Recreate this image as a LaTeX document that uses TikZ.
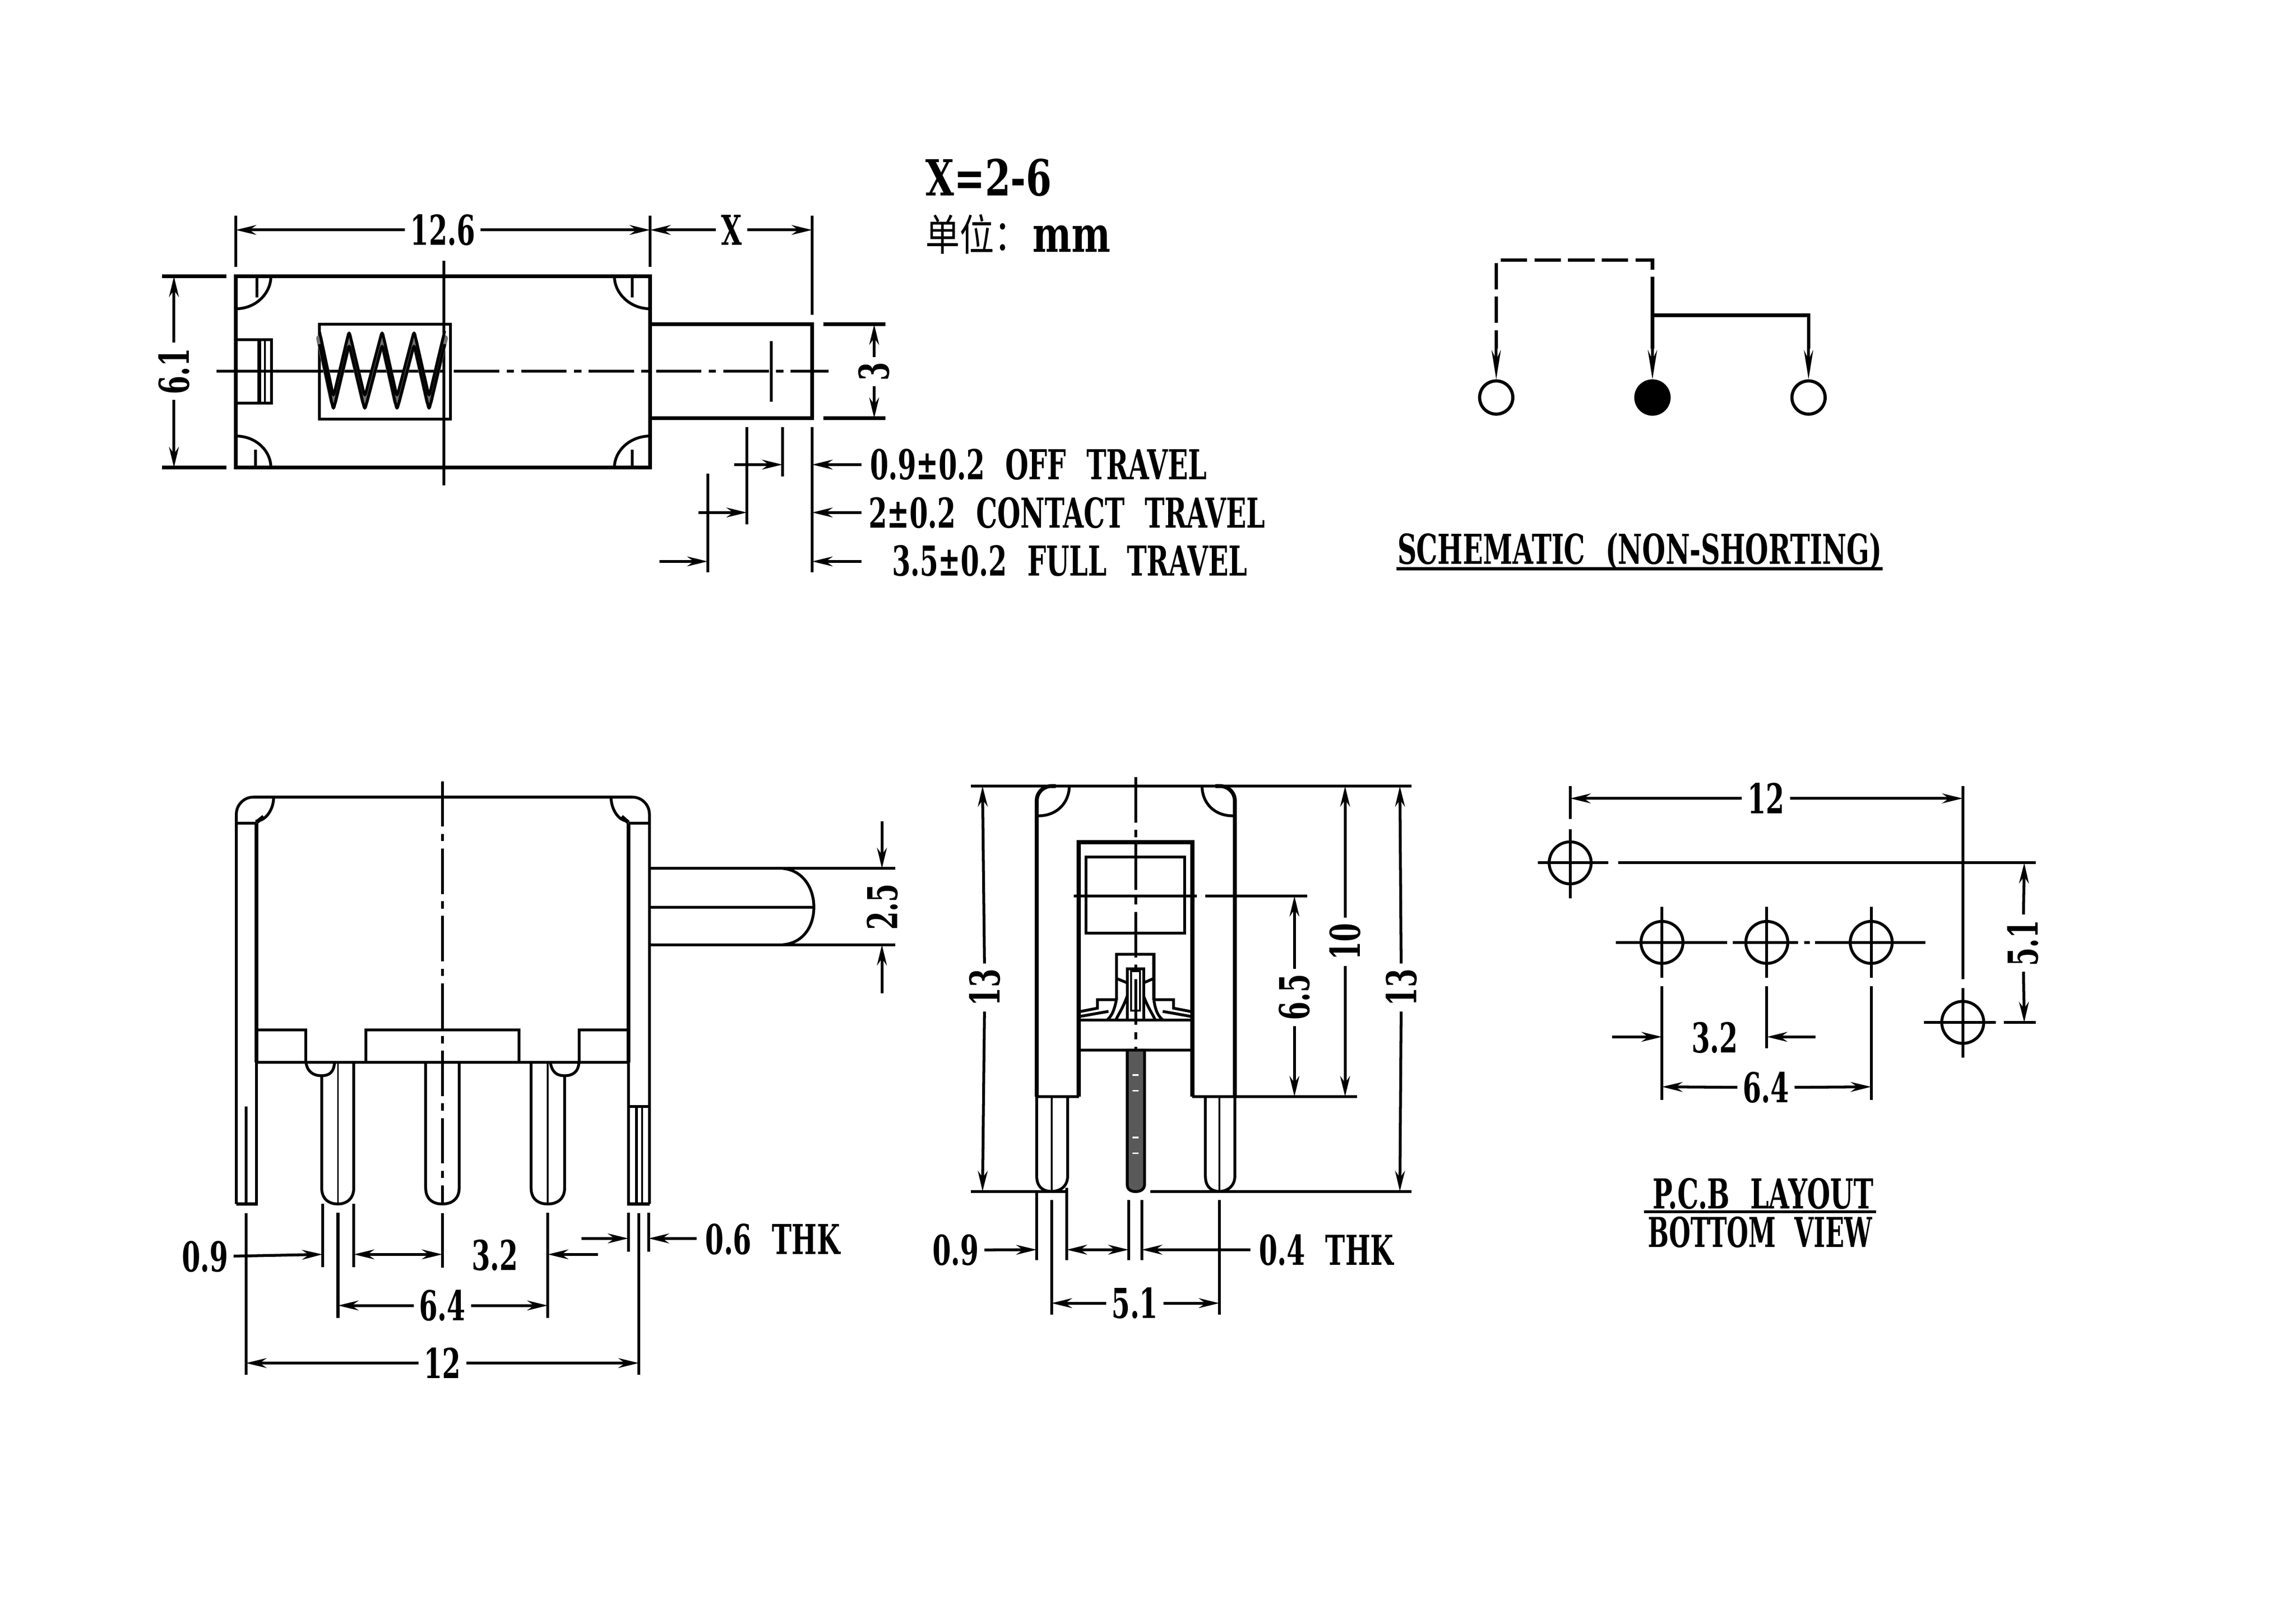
\documentclass[tikz,border=0pt]{standalone}
\usepackage{fontspec}
\usepackage{graphicx}
\usepackage{tikz}
\usetikzlibrary{arrows.meta}
\usetikzlibrary{calc}
\newfontfamily\dimfamily{DejaVu Serif}[FakeStretch=0.646, WordSpace=2.2]
\newfontfamily\bigfamily{DejaVu Serif}[FakeStretch=0.74]
\newfontfamily\cjkfamily{Noto Sans CJK SC}[FakeStretch=0.8]
\newcommand{\dimfont}{\dimfamily\bfseries\fontsize{24}{26}\selectfont}
\begin{document}
\begin{tikzpicture}[x=0.3mm, y=-0.3mm,
				outline/.style={draw, line width=0.8mm, line join=miter},
				thinline/.style={draw, line width=0.58mm},
				fineline/.style={draw, line width=0.38mm},
				centerline/.style={draw, line width=0.58mm, dash pattern=on 9.3mm off 1.5mm on 1.5mm off 1.5mm},
				dimarrow/.style={draw, line width=0.58mm, -{Stealth[length=4.2mm, width=2mm]}},
				lab/.style={font=\dimfont, inner sep=3pt},
				bigtext/.style={font=\bigfamily\bfseries\fontsize{29}{31}\selectfont, anchor=base west, inner sep=0pt},
				hole/.style={draw, line width=0.6mm, circle, minimum size=8.6mm, inner sep=0pt},
				term/.style={draw, line width=0.65mm, circle, minimum size=6.8mm, inner sep=0pt}]
	\useasboundingbox (0,0) rectangle (1568,1101);

	% top view
	\draw[outline] (161,188.7) rectangle (444,319.2);
	\draw[outline] (444,221.4) -- (554.6,221.4) -- (554.6,285.5) -- (444,285.5);
	\draw[thinline] (161,231.9) -- (185.5,231.9) -- (185.5,275.3) -- (161,275.3);
	\draw[outline] (177,231.9) -- (177,275.3);
	\draw[fineline] (181,231.9) -- (181,275.3);
	\draw[thinline] (218.1,221.4) rectangle (307.7,286);
	\draw[thinline] (148,253.3) -- (303,253.3);
	\draw[centerline] (310,253.3) -- (566,253.3);
	\draw[thinline] (303.2,178) -- (303.2,331.5);
	\draw[thinline] (526.8,232.9) -- (526.8,274.2);
	% spring
	\draw[draw=black!55, line width=1.3mm, line cap=round, rounded corners=0.7mm] (218.1,231) -- (227.7,276) -- (238.4,231) -- (249.1,276) -- (261,231) -- (271.1,276) -- (282.8,231) -- (293,276) -- (303.7,231);
	\draw[thinline, rounded corners=0.8mm] (218.1,226) -- (227.7,271) -- (238.4,226) -- (249.1,271) -- (261,226) -- (271.1,271) -- (282.8,226) -- (293,271) -- (303.7,226);
	\draw[thinline, rounded corners=0.8mm] (218.1,235) -- (227.7,280) -- (238.4,235) -- (249.1,280) -- (261,235) -- (271.1,280) -- (282.8,235) -- (293,280) -- (303.7,235);
	% corner pieces of the top view
	\draw[thinline] (185,188.7) .. controls (185,200) and (175,210.8) .. (161,210.8);
	\draw[thinline] (175.5,188.7) -- (175.5,203);
	\draw[thinline] (419.6,188.7) .. controls (419.6,200) and (430,210.8) .. (444,210.8);
	\draw[thinline] (431.8,188.7) -- (431.8,203);
	\draw[thinline] (185,319.2) .. controls (185,308) and (175,297.7) .. (161,297.7);
	\draw[thinline] (174.5,319.2) -- (174.5,307);
	\draw[thinline] (419.6,319.2) .. controls (419.6,308) and (430,297.7) .. (444,297.7);
	\draw[thinline] (431.8,319.2) -- (431.8,307);

	% top view dimensions
	\draw[thinline] (161,147.3) -- (161,182.1);
	\draw[thinline] (444,147.3) -- (444,182.1);
	\draw[thinline] (554.6,147.3) -- (554.6,214.9);
	\node[lab] (lab126) at (302.4,157) {12.6};
	\node[lab] (labx) at (499.6,157) {X};
	\draw[dimarrow] (lab126) -- (161,157);
	\draw[dimarrow] (lab126) -- (444,157);
	\draw[dimarrow] (labx) -- (444,157);
	\draw[dimarrow] (labx) -- (554.6,157);
	\draw[outline] (110.8,188.7) -- (154.6,188.7);
	\draw[outline] (110.8,319.2) -- (154.6,319.2);
	\node[lab, rotate=90] (lab61) at (118.8,253.5) {6.1};
	\draw[dimarrow] (lab61) -- (118.8,188.7);
	\draw[dimarrow] (lab61) -- (118.8,319.2);
	\draw[outline] (562.3,221.4) -- (604.7,221.4);
	\draw[outline] (562.3,285.5) -- (604.7,285.5);
	\node[lab, rotate=90] (lab3) at (597,253.7) {3};
	\draw[dimarrow] (lab3) -- (597,221.4);
	\draw[dimarrow] (lab3) -- (597,285.5);

	% travel dimensions
	\draw[thinline] (554.6,291.6) -- (554.6,390.8);
	\draw[thinline] (534.4,291.6) -- (534.4,325.4);
	\draw[thinline] (510.1,291.6) -- (510.1,358.1);
	\draw[thinline] (483.3,323.3) -- (483.3,390.8);
	\node[lab, anchor=base west, inner sep=0pt] (labofft) at (594,327.2) {0.9±0.2 OFF TRAVEL};
	\node[lab, anchor=base west, inner sep=0pt] (labcont) at (593,360.4) {2±0.2 CONTACT TRAVEL};
	\node[lab, anchor=base west, inner sep=0pt] (labfull) at (609,393) {3.5±0.2 FULL TRAVEL};
	\draw[dimarrow] (501.4,317.2) -- (534.4,317.2);
	\draw[dimarrow] (588.3,317.2) -- (554.6,317.2);
	\draw[dimarrow] (477,349.9) -- (510.1,349.9);
	\draw[dimarrow] (588.3,349.9) -- (554.6,349.9);
	\draw[dimarrow] (450.3,383.3) -- (483.3,383.3);
	\draw[dimarrow] (588.3,383.3) -- (554.6,383.3);

	\node[bigtext] (labrange) at (632,133.6) {X=2-6};
	\node[font=\cjkfamily\fontsize{25}{27}\selectfont, anchor=west, inner sep=0pt] (labunit) at (632,160) {单位：};
	\node[bigtext] (labmm) at (705,172) {mm};

	% schematic
	\node[term] (term1) at (1021.8,271.4) {};
	\node[term, fill=black] (term2) at (1128.5,271.4) {};
	\node[term] (term3) at (1235.1,271.4) {};
	\draw[thinline, line width=0.7mm, dash pattern=on 5.4mm off 1.5mm] (1128.5,207) -- (1128.5,177.6) -- (1021.8,177.6) -- (1021.8,238);
	\draw[thinline, line width=0.7mm] (1128.5,207) -- (1128.5,238);
	\draw[thinline, line width=0.7mm] (1128.5,215.2) -- (1235.1,215.2) -- (1235.1,238);
	\draw[thinline, -{Stealth[length=6mm, width=1.9mm]}] (1021.8,238) -- (term1);
	\draw[thinline, -{Stealth[length=6mm, width=1.9mm]}] (1128.5,238) -- (term2);
	\draw[thinline, -{Stealth[length=6mm, width=1.9mm]}] (1235.1,238) -- (term3);
	\node[lab, inner sep=0pt] (labschem) at (1119.8,376.5) {SCHEMATIC (NON-SHORTING)};
	\draw[thinline] (953.8,388.3) -- (1285.7,388.3);

	% front view
	\draw[thinline, rounded corners=3.5mm] (161.4,822) -- (161.4,544.2) -- (443.5,544.2) -- (443.5,822);
	\draw[thinline] (161.4,822) -- (175.1,822) -- (175.1,725.2);
	\draw[outline] (175.1,725.2) -- (175.1,562);
	\draw[thinline] (161.4,562) -- (175.1,562);
	\draw[thinline] (443.5,822) -- (429.1,822) -- (429.1,725.2);
	\draw[outline] (429.1,725.2) -- (429.1,562);
	\draw[thinline] (429.1,562) -- (443.5,562);
	\draw[thinline] (168,755.3) -- (168,822);
	\draw[thinline] (429.1,755.3) -- (443.5,755.3);
	\draw[thinline] (434.7,755.3) -- (434.7,822);
	\draw[fineline] (438.5,755.3) -- (438.5,822);
	\draw[thinline] (186.9,544.2) .. controls (186.9,552) and (182,560.6) .. (174.5,560.6);
	\draw[thinline] (417.3,544.2) .. controls (417.3,552) and (422,560.6) .. (429.1,560.6);
	\draw[outline] (175.1,561.5) -- (180,557.5);
	\draw[outline] (429.1,561.5) -- (424.5,557.5);
	\draw[thinline] (175.1,703.2) -- (208.9,703.2) -- (208.9,725.2);
	\draw[thinline] (249.8,725.2) -- (249.8,703.2) -- (354.5,703.2) -- (354.5,725.2);
	\draw[thinline] (429.1,703.2) -- (395.4,703.2) -- (395.4,725.2);
	\draw[thinline] (175.1,725.2) -- (429.1,725.2);
	\draw[thinline] (208.9,725.2) .. controls (210,732) and (214,734.4) .. (219.7,734.4) .. controls (225,734.4) and (228,732) .. (228.5,725.2);
	\draw[thinline] (375.8,725.2) .. controls (377,732) and (380,734.4) .. (385.6,734.4) .. controls (391,734.4) and (395,732) .. (395.4,725.2);
	% pins
	\draw[thinline] (219.7,734.4) -- (219.7,811) .. controls (219.7,819) and (225,822) .. (230.8,822) .. controls (236,822) and (241.6,819) .. (241.6,811) -- (241.6,725.2);
	\draw[thinline] (290.7,725.2) -- (290.7,811) .. controls (290.7,819) and (296,822) .. (302.1,822) .. controls (308,822) and (313.6,819) .. (313.6,811) -- (313.6,725.2);
	\draw[thinline] (362.7,725.2) -- (362.7,811) .. controls (362.7,819) and (368,822) .. (374.1,822) .. controls (380,822) and (385.6,819) .. (385.6,811) -- (385.6,734.4);
	\draw[fineline] (230.8,725.2) -- (230.8,822);
	\draw[fineline] (374.1,725.2) -- (374.1,822);
	\draw[centerline] (302.1,533.3) -- (302.1,822);
	% plunger side
	\draw[thinline] (443.5,592.9) -- (611.4,592.9);
	\draw[thinline] (443.5,645) -- (611.4,645);
	\draw[thinline] (534.5,592.9) .. controls (548,594) and (555.8,606) .. (555.8,619.3) .. controls (555.8,633) and (548,644) .. (534.5,645);
	\draw[thinline] (443.5,619.3) -- (555.8,619.3);

	% front view dimensions
	\draw[thinline] (168,828.3) -- (168,938.6);
	\draw[thinline] (436.3,828.3) -- (436.3,938.6);
	\draw[thinline] (220.3,822) -- (220.3,865);
	\draw[thinline] (241.6,822) -- (241.6,865);
	\draw[thinline] (230.8,827.8) -- (230.8,899.9);
	\draw[thinline] (374.1,827.8) -- (374.1,899.9);
	\draw[thinline] (302.1,828.3) -- (302.1,865.6);
	\draw[thinline] (429.1,827.8) -- (429.1,854.7);
	\draw[thinline] (442.9,827.8) -- (442.9,854.7);
	\node[lab] (labfa) at (140,858) {0.9};
	\node[lab] (labfb) at (338,857) {3.2};
	\node[lab, anchor=west, inner sep=0pt] (labfc) at (481.5,846) {0.6 THK};
	\node[lab] (labfd) at (302.1,891.3) {6.4};
	\node[lab] (labfe) at (302.1,930.6) {12};
	\node[lab, rotate=90] (labff) at (602.6,619.3) {2.5};
	\draw[dimarrow] (labfa) -- (220.3,856.4);
	\draw[dimarrow] (272,856.4) -- (241.6,856.4);
	\draw[dimarrow] (272,856.4) -- (302.1,856.4);
	\draw[dimarrow] (408.5,856.4) -- (374.1,856.4);
	\draw[dimarrow] (397,845.5) -- (429.1,845.5);
	\draw[dimarrow] (475.6,845.5) -- (442.9,845.5);
	\draw[dimarrow] (labfd) -- (230.8,891.3);
	\draw[dimarrow] (labfd) -- (374.1,891.3);
	\draw[dimarrow] (labfe) -- (168,930.6);
	\draw[dimarrow] (labfe) -- (436.3,930.6);
	\draw[dimarrow] (602.3,560.6) -- (602.3,592.9);
	\draw[dimarrow] (602.3,678) -- (602.3,645);

	% side view
	\draw[thinline] (663.2,536.7) -- (964,536.7);
	\draw[thinline] (663.2,813.4) -- (729,813.4);
	\draw[thinline] (785.6,813.4) -- (964,813.4);
	\draw[outline, rounded corners=3mm] (708,748.7) -- (708,536.7) -- (721,536.7);
	\draw[outline, rounded corners=3mm] (843.3,748.7) -- (843.3,536.7) -- (830,536.7);
	\draw[thinline] (730.3,536.7) .. controls (730,548) and (722,557) .. (709,557);
	\draw[thinline] (820.9,536.7) .. controls (821,548) and (829,557) .. (842,557);
	\draw[outline] (736.7,748.7) -- (736.7,575) -- (814.3,575) -- (814.3,748.7);
	\draw[thinline] (708,748.7) -- (736.7,748.7);
	\draw[thinline] (814.3,748.7) -- (926.8,748.7);
	\draw[thinline] (741.6,585.1) rectangle (809.1,637);
	\draw[thinline] (733.4,611.7) -- (817.4,611.7);
	\draw[thinline] (823.2,611.7) -- (892.7,611.7);
	\draw[centerline] (775.5,530.6) -- (775.5,716.9);
	% contact
	\draw[thinline] (737.2,696.5) -- (813.7,696.5);
	\draw[thinline] (737.2,716.9) -- (813.7,716.9);
	\draw[thinline] (737.2,690.7) -- (749.5,688.3) -- (749.5,682.5) -- (762.4,682.5);
	\draw[thinline] (813.7,690.7) -- (801.4,688.3) -- (801.4,682.5) -- (788,682.5);
	\draw[thinline] (737.2,694) -- (757,690.5);
	\draw[thinline] (813.7,694) -- (794,690.5);
	\draw[thinline] (762.4,682.5) .. controls (761,690) and (759,694) .. (755.9,696.5);
	\draw[thinline] (788,682.5) .. controls (789,690) and (791,694) .. (794.4,696.5);
	\draw[thinline] (762.4,682.5) -- (762.4,651.4) -- (788,651.4) -- (788,682.5);
	\draw[thinline] (769.8,696.5) -- (769.8,661.3) -- (781,661.3) -- (781,696.5);
	\draw[fineline] (772.5,690) rectangle (778.4,663);
	\draw[thinline] (762.4,668) -- (769.8,671);
	\draw[thinline] (788,668) -- (781,671);
	\draw[thinline] (769.8,680) .. controls (767,688) and (764,692) .. (762,696.5);
	\draw[thinline] (781,680) .. controls (784,688) and (787,692) .. (789,696.5);
	% contact pin
	\draw[thinline, fill=black!65] (769.8,716.9) -- (769.8,809) .. controls (770,812) and (772,813.5) .. (775.5,813.5) .. controls (779,813.5) and (781.4,812) .. (781.6,809) -- (781.6,716.9) -- cycle;
	\draw[line width=0.35mm, white] (773.5,734) -- (777.5,734);
	\draw[line width=0.35mm, white] (773.5,744.7) -- (777.5,744.7);
	\draw[line width=0.35mm, white] (773.5,776.7) -- (777.5,776.7);
	\draw[line width=0.35mm, white] (773.5,787.3) -- (777.5,787.3);
	% side pins
	\draw[thinline] (708,748.7) -- (708,803) .. controls (708,810) and (712,813.4) .. (718.1,813.4) .. controls (724,813.4) and (729.1,810) .. (729.1,803) -- (729.1,748.7);
	\draw[thinline] (823.2,748.7) -- (823.2,803) .. controls (823.2,810) and (827,813.4) .. (832.7,813.4) .. controls (838,813.4) and (843.3,810) .. (843.3,803) -- (843.3,748.7);
	\draw[fineline] (718.1,748.7) -- (718.1,813.4);
	\draw[fineline] (832.7,748.7) -- (832.7,813.4);

	% side view dimensions
	\node[lab, rotate=90] (labsa) at (672.5,674.2) {13};
	\node[lab, rotate=90] (labsb) at (957,674.2) {13};
	\node[lab, rotate=90] (labsc) at (918.6,643) {10};
	\node[lab, rotate=90] (labsd) at (884,680.9) {6.5};
	\draw[dimarrow] (labsa) -- (671,536.7);
	\draw[dimarrow] (labsa) -- (671,813.4);
	\draw[dimarrow] (labsb) -- (956,536.7);
	\draw[dimarrow] (labsb) -- (956,813.4);
	\draw[dimarrow] (labsc) -- (918.6,536.7);
	\draw[dimarrow] (labsc) -- (918.6,748.7);
	\draw[dimarrow] (labsd) -- (884,611.7);
	\draw[dimarrow] (labsd) -- (884,748.7);
	\draw[thinline] (708,813.4) -- (708,860.4);
	\draw[thinline] (728.4,811) -- (728.4,860.4);
	\draw[thinline] (718.1,819.2) -- (718.1,897.7);
	\draw[thinline] (832.7,819.2) -- (832.7,897.7);
	\draw[thinline] (770.8,819.2) -- (770.8,860.4);
	\draw[thinline] (779.7,819.2) -- (779.7,860.4);
	\node[lab] (labse) at (652.7,853.5) {0.9};
	\node[lab, anchor=west, inner sep=0pt] (labsf) at (859.5,853.5) {0.4 THK};
	\node[lab] (labsg) at (775,889.7) {5.1};
	\draw[dimarrow] (labse) -- (708,853.2);
	\draw[dimarrow] (749.6,853.2) -- (728.4,853.2);
	\draw[dimarrow] (749.6,853.2) -- (770.8,853.2);
	\draw[dimarrow] (853.8,853.2) -- (779.7,853.2);
	\draw[dimarrow] (labsg) -- (718.1,889.7);
	\draw[dimarrow] (labsg) -- (832.7,889.7);

	% pcb layout
	\node[hole] (hole1) at (1072.3,589.1) {};
	\node[hole] (hole2) at (1135,643.4) {};
	\node[hole] (hole3) at (1206.6,643.4) {};
	\node[hole] (hole4) at (1277.9,643.4) {};
	\node[hole] (hole5) at (1340.4,698) {};
	\draw[thinline] (1072.3,566.2) -- (1072.3,613.3);
	\draw[thinline] (1050.4,589.1) -- (1098.3,589.1);
	\draw[thinline] (1105,589.1) -- (1390.4,589.1);
	\draw[thinline] (1072.3,536.8) -- (1072.3,559.2);
	\draw[thinline] (1135,619.2) -- (1135,667.4);
	\draw[thinline] (1206.6,619.2) -- (1206.6,667.4);
	\draw[thinline] (1277.9,619.2) -- (1277.9,667.4);
	\draw[thinline] (1103.6,643.4) -- (1179.5,643.4);
	\draw[thinline] (1183.4,643.4) -- (1228,643.4);
	\draw[thinline] (1232,643.4) -- (1236,643.4);
	\draw[thinline] (1239.5,643.4) -- (1315,643.4);
	\draw[thinline] (1340.4,674.5) -- (1340.4,722.2);
	\draw[thinline] (1313.8,698) -- (1363,698);
	\draw[thinline] (1368.3,698) -- (1390.4,698);
	\draw[thinline] (1340.4,536.8) -- (1340.4,668.6);
	\draw[thinline] (1135,673.3) -- (1135,751);
	\draw[thinline] (1206.6,673.3) -- (1206.6,715.7);
	\draw[thinline] (1277.9,673.3) -- (1277.9,751);
	\node[lab] (labpa) at (1206,545.1) {12};
	\node[lab, rotate=90] (labpb) at (1381.6,643.9) {5.1};
	\node[lab] (labpc) at (1171,708.5) {3.2};
	\node[lab] (labpd) at (1206,742.5) {6.4};
	\draw[dimarrow] (labpa) -- (1072.3,545.1);
	\draw[dimarrow] (labpa) -- (1340.4,545.1);
	\draw[dimarrow] (labpb) -- (1382.4,589.1);
	\draw[dimarrow] (labpb) -- (1382.4,698);
	\draw[dimarrow] (1101,707.9) -- (1135,707.9);
	\draw[dimarrow] (1239.8,707.9) -- (1206.6,707.9);
	\draw[dimarrow] (labpd) -- (1135,742);
	\draw[dimarrow] (labpd) -- (1277.9,742);
	\node[lab, anchor=base, inner sep=0pt] (labpe) at (1204,825.3) {P.C.B LAYOUT};
	\draw[thinline] (1122.8,827.4) -- (1281.3,827.4);
	\node[lab, anchor=base, inner sep=0pt] (labpf) at (1202,851.5) {\scalebox{0.93}[1]{BOTTOM VIEW}};
\end{tikzpicture}
\end{document}
